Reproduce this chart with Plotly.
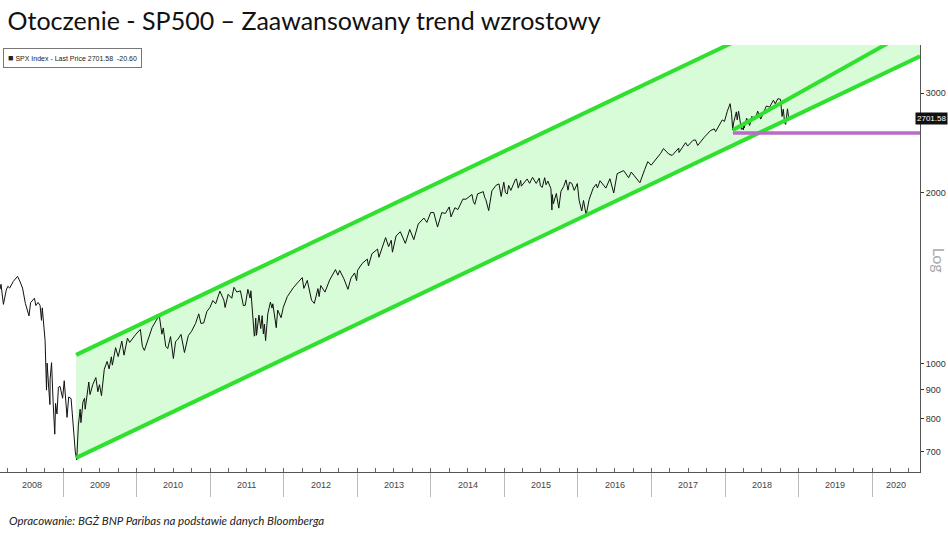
import numpy as np
import plotly.graph_objects as go
from datetime import date

# ---------------- data ----------------
price_dates = [
"2008-02-22","2008-02-27","2008-03-10","2008-03-18","2008-03-24","2008-04-01","2008-04-10","2008-04-28","2008-05-19","2008-05-30",
"2008-06-13","2008-06-27","2008-07-15","2008-07-23","2008-08-11","2008-08-18","2008-08-29","2008-09-08","2008-09-15","2008-09-19",
"2008-09-29","2008-10-03","2008-10-10","2008-10-13","2008-10-22","2008-10-27","2008-10-28","2008-11-04","2008-11-12","2008-11-20",
"2008-11-24","2008-12-01","2008-12-08","2008-12-16","2008-12-29",
"2009-01-06","2009-01-20","2009-01-28","2009-02-09","2009-02-23","2009-03-02","2009-03-09","2009-03-17","2009-03-26","2009-03-30",
"2009-04-09","2009-04-17","2009-04-20","2009-05-08","2009-05-14","2009-05-28","2009-06-12","2009-06-22","2009-06-30","2009-07-10",
"2009-07-24","2009-08-07","2009-08-17","2009-08-28","2009-09-02","2009-09-18","2009-10-01","2009-10-19","2009-10-30","2009-11-16",
"2009-11-27","2009-12-14","2009-12-28",
"2010-01-19","2010-01-29","2010-02-08","2010-02-26","2010-03-19","2010-04-06","2010-04-23","2010-05-06","2010-05-13","2010-05-25",
"2010-06-04","2010-06-18","2010-07-02","2010-07-13","2010-07-23","2010-08-09","2010-08-26","2010-09-14","2010-09-30","2010-10-20",
"2010-11-05","2010-11-16","2010-11-30","2010-12-15","2010-12-31",
"2011-01-14","2011-01-28","2011-02-18","2011-03-10","2011-03-16","2011-03-31","2011-04-18","2011-04-29","2011-05-13","2011-05-31",
"2011-06-15","2011-06-24","2011-07-07","2011-07-18","2011-07-22","2011-08-08","2011-08-10","2011-08-15","2011-08-19","2011-08-31",
"2011-09-09","2011-09-16","2011-09-22","2011-09-27","2011-10-03","2011-10-14","2011-10-27","2011-11-04","2011-11-08","2011-11-25",
"2011-12-02","2011-12-19","2011-12-30",
"2012-01-19","2012-02-17","2012-03-14","2012-04-02","2012-04-10","2012-04-27","2012-05-18","2012-06-01","2012-06-19","2012-06-25",
"2012-07-03","2012-07-24","2012-08-16","2012-09-14","2012-09-26","2012-10-05","2012-10-26","2012-11-15","2012-11-30","2012-12-18",
"2012-12-28",
"2013-01-02","2013-01-25","2013-02-19","2013-02-25","2013-03-14","2013-04-11","2013-04-18","2013-05-21","2013-06-05","2013-06-18",
"2013-06-24","2013-07-12","2013-08-02","2013-08-27","2013-09-18","2013-10-08","2013-10-30","2013-11-27","2013-12-12","2013-12-31",
"2014-01-15","2014-02-03","2014-02-24","2014-03-14","2014-04-02","2014-04-11","2014-04-30","2014-05-15","2014-06-09","2014-06-24",
"2014-07-24","2014-07-31","2014-08-07","2014-08-21","2014-09-18","2014-09-25","2014-10-01","2014-10-15","2014-10-31","2014-11-21",
"2014-12-05","2014-12-16","2014-12-29",
"2015-01-06","2015-01-15","2015-01-22","2015-02-02","2015-02-25","2015-03-02","2015-03-11","2015-03-23","2015-03-26","2015-04-24",
"2015-05-06","2015-05-21","2015-06-08","2015-06-23","2015-06-29","2015-07-08","2015-07-20","2015-07-27","2015-08-05","2015-08-20",
"2015-08-25","2015-08-27","2015-09-01","2015-09-16","2015-09-28","2015-10-09","2015-10-22","2015-11-03","2015-11-13","2015-11-20",
"2015-12-02","2015-12-14","2015-12-29",
"2016-01-07","2016-01-20","2016-01-29","2016-02-11","2016-02-26","2016-03-17","2016-04-01","2016-04-07","2016-04-20","2016-05-19",
"2016-06-08","2016-06-27","2016-07-14","2016-08-15","2016-09-09","2016-09-22","2016-10-13","2016-11-04","2016-11-28","2016-12-13",
"2016-12-30",
"2017-01-26","2017-02-15","2017-03-01","2017-03-27","2017-04-13","2017-05-16","2017-05-17","2017-06-19","2017-06-29","2017-07-26",
"2017-08-07","2017-08-18","2017-09-20","2017-10-20","2017-11-08","2017-11-15","2017-12-18","2017-12-29",
"2018-01-12","2018-01-26","2018-02-02","2018-02-08","2018-02-12","2018-02-26","2018-03-02","2018-03-09","2018-03-23","2018-03-28",
"2018-04-02","2018-04-05","2018-04-06","2018-04-18","2018-05-03","2018-05-14","2018-05-29","2018-06-12","2018-06-27","2018-07-25",
"2018-08-10","2018-08-29","2018-09-07","2018-09-20","2018-10-03","2018-10-11","2018-10-17","2018-10-24","2018-10-29","2018-11-02",
"2018-11-07","2018-11-12","2018-11-14",
]
price_values = [
1353,1381,1273,1330,1349,1370,1360,1397,1426,1400,
1360,1278,1215,1282,1305,1267,1283,1268,1193,1255,
1106,1099,899,1003,896,848,941,1005,853,752,
852,816,909,913,870,
934,805,874,869,743,700,677,778,832,788,
857,870,832,929,883,920,946,893,919,879,
979,1010,980,1029,995,1068,1030,1097,1036,1110,
1091,1114,1128,
1150,1074,1056,1105,1160,1190,1217,1128,1157,1074,
1064,1117,1022,1095,1103,1127,1047,1121,1141,1178,
1225,1178,1181,1236,1258,
1293,1276,1343,1295,1257,1326,1305,1364,1338,1345,
1266,1268,1353,1306,1345,1119,1121,1204,1123,1219,
1154,1216,1129,1175,1099,1225,1285,1254,1276,1158,
1244,1206,1258,
1314,1361,1395,1419,1358,1403,1295,1278,1357,1314,
1374,1338,1405,1466,1433,1461,1412,1353,1416,1446,
1402,
1462,1503,1530,1488,1563,1593,1541,1669,1609,1651,
1573,1680,1709,1630,1725,1655,1763,1807,1775,1848,
1848,1742,1847,1841,1890,1815,1884,1870,1951,1950,
1988,1931,1910,1993,2011,1965,1946,1862,2018,2064,
2075,1972,2090,
2003,1992,2063,2021,2114,2117,2040,2104,2056,2117,
2080,2131,2079,2124,2058,2046,2128,2068,2099,2035,
1867,1987,1914,1996,1881,2014,2052,2109,2023,2089,
2079,2021,2078,
1943,1859,1940,1829,1948,2040,2073,2041,2102,2040,
2119,2000,2163,2190,2128,2177,2132,2085,2201,2271,
2239,
2298,2349,2395,2342,2329,2400,2357,2453,2419,2477,
2480,2425,2508,2575,2594,2565,2690,2674,
2786,2873,2762,2581,2656,2779,2691,2786,2588,2605,
2582,2663,2604,2708,2630,2730,2690,2787,2699,2846,
2833,2914,2872,2931,2925,2728,2809,2656,2641,2723,
2814,2726,2701.58,
]

channel_dates = ["2009-03-06", "2020-08-26"]
channel_lower = [683, 3482]
channel_upper = [1037, 5285]
inner_dates = ["2018-02-09", "2020-08-26"]
inner_values = [2581, 3950]
support_dates = ["2018-02-09", "2020-08-26"]
support_values = [2550, 2550]

y_ticks = [700, 800, 900, 1000, 2000, 3000]
years = list(range(2008, 2021))
x_range = ["2008-02-22", "2020-08-26"]
y_range_vals = [645, 3645]

last_price = 2701.58
last_change = -20.60

# ---------------- figure ----------------
GREEN = "#2fe02f"
FILL = "#d8fbd8"
PURPLE = "#b86cc6"
NARROW = "Liberation Sans Narrow, Liberation Sans"

fig = go.Figure()
fig.add_trace(go.Scatter(x=channel_dates, y=channel_upper, mode="lines",
                         line=dict(width=0, color=GREEN), showlegend=False, hoverinfo="skip"))
fig.add_trace(go.Scatter(x=channel_dates, y=channel_lower, mode="lines", fill="tonexty",
                         fillcolor=FILL, line=dict(width=0, color=GREEN), showlegend=False,
                         hoverinfo="skip"))
fig.add_trace(go.Scatter(x=price_dates, y=price_values, mode="lines",
                         line=dict(color="#111111", width=1), showlegend=False))
for xs, ys in [(channel_dates, channel_upper), (channel_dates, channel_lower), (inner_dates, inner_values)]:
    fig.add_trace(go.Scatter(x=xs, y=ys, mode="lines", line=dict(color=GREEN, width=4),
                             showlegend=False, hoverinfo="skip"))
fig.add_trace(go.Scatter(x=support_dates, y=support_values, mode="lines",
                         line=dict(color=PURPLE, width=3.5), showlegend=False, hoverinfo="skip"))

# year labels centred on visible part of each year
def to_d(s):
    return date.fromisoformat(s)
r0, r1 = to_d(x_range[0]), to_d(x_range[1])
annotations = []
for yr in years:
    a = max(date(yr, 1, 1), r0)
    b = min(date(yr + 1, 1, 1), r1)
    mid = a + (b - a) / 2
    annotations.append(dict(x=mid.isoformat(), xref="x", y=0, yref="paper", yshift=-13,
                            yanchor="middle", text=str(yr), showarrow=False,
                            font=dict(size=9, color="#444", family=NARROW)))

annotations.append(dict(x=0.003, xref="paper", y=0.993, yref="paper", xanchor="left", yanchor="top",
                        text="<span style='font-size:9px'>■</span> SPX Index - Last Price %.2f  %.2f" % (last_price, last_change),
                        showarrow=False, bgcolor="white", bordercolor="#777", borderwidth=1, borderpad=4,
                        font=dict(size=7, color="#222", family=NARROW)))
annotations.append(dict(x=1, xref="paper", y=np.log10(last_price), yref="y", xanchor="right",
                        xshift=28, text="%.2f" % last_price, showarrow=False, bgcolor="#111",
                        borderpad=1, font=dict(size=8, color="white", family=NARROW)))
annotations.append(dict(x=1, xref="paper", y=0.496, yref="paper", xanchor="left", xshift=8,
                        text="Log", textangle=90, showarrow=False,
                        font=dict(size=16, color="#aaa", family="Lato, Liberation Sans")))
annotations.append(dict(x=0, xref="paper", y=0, yref="paper", xanchor="left", yanchor="middle",
                        xshift=7, yshift=-48,
                        text="<i>Opracowanie: BGŻ BNP Paribas na podstawie danych Bloomberga</i>",
                        showarrow=False, font=dict(size=11.5, color="#222", family="Lato, Liberation Sans")))

fig.update_layout(
    width=948, height=533,
    margin=dict(l=0, r=28, t=45, b=61),
    paper_bgcolor="white", plot_bgcolor="white",
    title=dict(text="Otoczenie - SP500 – Zaawansowany trend wzrostowy", x=0.008, xanchor="left",
               y=0.977, yanchor="top", xref="container", yref="container",
               font=dict(size=25, color="#111", family="Lato, Liberation Sans")),
    annotations=annotations,
    showlegend=False,
)
fig.update_xaxes(type="date", range=x_range, showgrid=False, zeroline=False,
                 showline=True, linecolor="#555", linewidth=1,
                 tick0="2009-01-01", dtick="M12", ticks="outside", ticklen=24, tickcolor="#bbb",
                 showticklabels=False,
                 minor=dict(dtick="M3", tick0="2009-01-01", ticks="inside", ticklen=4, tickcolor="#666"))
fig.update_yaxes(type="log", range=[np.log10(y_range_vals[0]), np.log10(y_range_vals[1])],
                 side="right", showgrid=False, zeroline=False, showline=True,
                 linecolor="#555", linewidth=1, tickmode="array", tickvals=y_ticks,
                 ticktext=[str(v) for v in y_ticks], ticks="outside", ticklen=3, tickcolor="#333",
                 tickfont=dict(size=9, color="#333", family=NARROW))

fig.write_html("out.html", config={"displayModeBar": False},
               post_script="document.body.style.margin='0';document.body.style.overflow='hidden';")
